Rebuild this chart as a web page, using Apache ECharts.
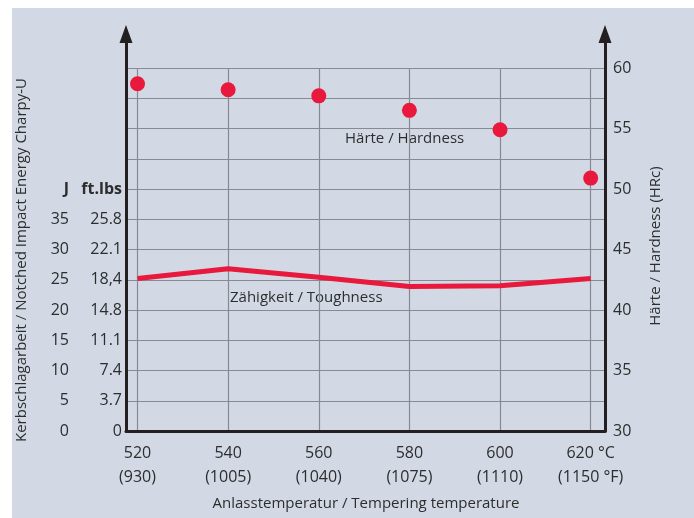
<!DOCTYPE html>
<html><head><meta charset="utf-8">
<script src="https://cdn.jsdelivr.net/npm/echarts@6/dist/echarts.min.js"></script>
<style>
html,body{margin:0;padding:0;background:#fff;}
#bg{position:absolute;left:12px;top:8px;width:682px;height:510px;background:#d2d9e5;}
#main{position:absolute;left:0;top:0;width:694px;height:518px;}
</style></head>
<body><div id="bg"></div><div id="main"></div>
<script>
// ---- data ----
const temps = [520, 540, 560, 580, 600, 620];
const tempLabelsC = ['520', '540', '560', '580', '600', '620 °C'];
const tempLabelsF = ['(930)', '(1005)', '(1040)', '(1075)', '(1110)', '(1150 °F)'];
const hardness = [58.7, 58.2, 57.7, 56.5, 54.9, 50.9];   // HRc, right axis
const toughness = [25.2, 26.8, 25.4, 23.9, 24.0, 25.2];  // J, left axis
const jTicks = [0, 5, 10, 15, 20, 25, 30, 35];
const ftlbsTicks = ['0', '3.7', '7.4', '11.1', '14.8', '18,4', '22.1', '25.8'];
const hrcTicks = [30, 35, 40, 45, 50, 55, 60];

const FONT = 'Open Sans';
const TXT = '#2d2d2d';
const RED = '#e8193c';
const AX = '#231f20';
const GRIDC = '#878b91';

const chart = echarts.init(document.getElementById('main'), null, {renderer: 'canvas'});

const option = {
  backgroundColor: 'transparent',
  animation: false,
  textStyle: {fontFamily: FONT, color: TXT},
  grid: [
    {left: 126, right: 89, top: 68, bottom: 87, outerBoundsMode: 'none'},
    {left: 126, right: 89, top: 34, bottom: 87, outerBoundsMode: 'none'}
  ],
  xAxis: [
    {
      type: 'value', gridIndex: 0, min: 517.46, max: 623.16,
      minInterval: 20, maxInterval: 20,
      axisLine: {show: true, lineStyle: {color: AX, width: 3}},
      axisTick: {show: false},
      splitLine: {show: true, lineStyle: {color: GRIDC, width: 1.2}},
      axisLabel: {
        margin: 10, fontSize: 16, lineHeight: 24, color: TXT, fontFamily: FONT,
        showMinLabel: false, showMaxLabel: false,
        formatter: function (v) {
          const i = temps.indexOf(Math.round(v));
          if (i < 0 || Math.abs(v - temps[i]) > 0.01) return '';
          return tempLabelsC[i] + '\n' + tempLabelsF[i];
        }
      }
    },
    {type: 'value', gridIndex: 1, show: false, min: 0, max: 1}
  ],
  yAxis: [
    { // J (left)
      type: 'value', gridIndex: 0, position: 'left', offset: 0,
      min: 0, max: 60, interval: 5,
      axisLine: {show: false}, axisTick: {show: false}, splitLine: {show: false},
      axisLabel: {
        margin: 57, fontSize: 16, color: TXT, fontFamily: FONT,
        formatter: function (v) {
          if (jTicks.indexOf(v) >= 0) return String(v);
          if (v === 40) return '{b|J}';
          return '';
        },
        rich: {b: {fontWeight: 'bold', fontSize: 16, color: TXT, fontFamily: FONT}}
      }
    },
    { // HRc (right)
      type: 'value', gridIndex: 0, position: 'right', offset: 0,
      min: 30, max: 60, interval: 2.5,
      axisLine: {show: false}, axisTick: {show: false},
      splitLine: {show: true, lineStyle: {color: GRIDC, width: 1.2}},
      axisLabel: {
        margin: 8, fontSize: 16, color: TXT, fontFamily: FONT,
        formatter: function (v) { return hrcTicks.indexOf(v) >= 0 ? String(v) : ''; }
      }
    },
    { // ft.lbs (left, inner column)
      type: 'value', gridIndex: 0, position: 'left', offset: 0,
      min: 0, max: 60, interval: 5,
      axisLine: {show: false}, axisTick: {show: false}, splitLine: {show: false},
      axisLabel: {
        margin: 4, fontSize: 16, color: TXT, fontFamily: FONT,
        formatter: function (v) {
          const i = Math.round(v / 5);
          if (i < ftlbsTicks.length) return ftlbsTicks[i];
          if (i === 8) return '{b|ft.lbs}';
          return '';
        },
        rich: {b: {fontWeight: 'bold', fontSize: 16, color: TXT, fontFamily: FONT}}
      }
    },
    { // arrow axis left
      type: 'value', gridIndex: 1, position: 'left', min: 0, max: 1,
      axisLine: {show: true, symbol: ['none', 'triangle'], symbolSize: [13, 18], lineStyle: {color: AX, width: 3}},
      axisTick: {show: false}, axisLabel: {show: false}, splitLine: {show: false}
    },
    { // arrow axis right
      type: 'value', gridIndex: 1, position: 'right', min: 0, max: 1,
      axisLine: {show: true, symbol: ['none', 'triangle'], symbolSize: [13, 18], lineStyle: {color: AX, width: 3}},
      axisTick: {show: false}, axisLabel: {show: false}, splitLine: {show: false}
    }
  ],
  graphic: [
    {type: 'text', left: 345, top: 131, style: {text: 'Härte / Hardness', fontSize: 15, fontFamily: FONT, fill: TXT}},
    {type: 'text', left: 230, top: 290, style: {text: 'Zähigkeit / Toughness', fontSize: 15, fontFamily: FONT, fill: TXT}},
    {type: 'text', x: 366, y: 504, style: {text: 'Anlasstemperatur / Tempering temperature', fontSize: 15, fontFamily: FONT, fill: TXT, align: 'center', verticalAlign: 'middle'}},
    {type: 'text', x: 22, y: 260, rotation: Math.PI / 2, style: {text: 'Kerbschlagarbeit / Notched Impact Energy Charpy-U', fontSize: 15, fontFamily: FONT, fill: TXT, align: 'center', verticalAlign: 'middle'}},
    {type: 'text', x: 656, y: 246, rotation: Math.PI / 2, style: {text: 'Härte / Hardness (HRc)', fontSize: 15, fontFamily: FONT, fill: TXT, align: 'center', verticalAlign: 'middle'}}
  ],
  series: [
    {
      name: 'Zähigkeit / Toughness', type: 'line', xAxisIndex: 0, yAxisIndex: 0,
      data: temps.map((t, i) => [t, toughness[i]]),
      showSymbol: false, symbol: 'none',
      lineStyle: {color: RED, width: 5, opacity: 1}, z: 5
    },
    {
      name: 'Härte / Hardness', type: 'scatter', xAxisIndex: 0, yAxisIndex: 1,
      data: temps.map((t, i) => [t, hardness[i]]),
      symbol: 'circle', symbolSize: 15,
      itemStyle: {color: RED, opacity: 1}, z: 6
    }
  ]
};
chart.setOption(option);
</script>
</body></html>
